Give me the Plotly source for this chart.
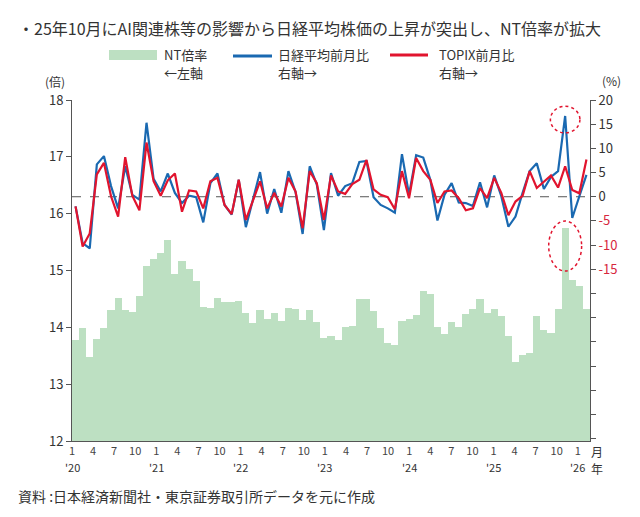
import plotly.graph_objects as go

# 月次データ 2020年1月〜2026年1月
months = [(y, m) for y in range(2020, 2027) for m in range(1, 13)][:73]

nt_ratio = [13.78, 13.99, 13.48, 13.79, 13.99, 14.31, 14.52, 14.31, 14.27, 14.55, 15.08, 15.21,
            15.30, 15.54, 14.94, 15.17, 15.02, 14.82, 14.35, 14.34, 14.52, 14.45, 14.44, 14.46,
            14.25, 14.07, 14.30, 14.15, 14.26, 14.12, 14.34, 14.33, 14.13, 14.31, 14.10, 13.81,
            13.84, 13.78, 14.00, 14.03, 14.50, 14.50, 14.29, 13.99, 13.72, 13.69, 14.11, 14.14,
            14.22, 14.64, 14.59, 14.01, 13.88, 14.09, 14.00, 14.24, 14.33, 14.50, 14.26, 14.33,
            14.20, 13.85, 13.39, 13.52, 13.55, 14.20, 13.96, 13.90, 14.32, 15.74, 14.84, 14.72,
            14.32]

nikkei_mom = [-2.0, -9.6, -10.7, 6.7, 8.4, 2.2, -2.4, 6.3, 0.4, -0.6, 15.3, 3.7,
              1.1, 4.8, 0.8, -1.3, 0.2, -0.1, -5.3, 2.8, 4.8, -1.7, -3.7, 3.5,
              -6.3, -0.6, 5.1, -3.5, 1.6, -3.3, 5.3, 1.0, -7.7, 6.3, 2.5, -6.9,
              4.9, 0.2, 2.2, 2.8, 7.2, 7.4, -0.1, -1.7, -2.4, -3.3, 8.8, 0.4,
              8.6, 8.1, 3.5, -4.9, 0.4, 2.8, -1.2, -1.3, -1.9, 3.0, -2.2, 4.4,
              0.1, -6.2, -4.1, 0.8, 5.3, 6.9, 1.6, 4.1, 5.3, 16.7, -4.4, 0.1,
              4.5]

topix_mom = [-2.0, -10.3, -7.6, 4.6, 7.0, 0.1, -4.1, 8.2, 0.2, -2.8, 11.2, 3.2,
             0.2, 3.4, 4.8, -3.1, 1.3, 1.1, -2.4, 3.2, 3.9, -1.7, -3.6, 3.5,
             -4.8, -1.0, 3.2, -2.4, 0.8, -2.0, 3.9, 1.1, -6.5, 5.3, 2.8, -4.8,
             4.4, 1.1, 0.6, 2.6, 3.5, 7.6, 1.5, 0.4, -0.1, -2.6, 5.3, -0.3,
             8.0, 5.3, 3.5, -1.3, 1.1, 1.3, -0.3, -2.8, -2.4, 1.8, -0.3, 3.9,
             0.8, -3.8, -1.0, 0.2, 5.3, 1.8, 3.2, 4.4, 1.9, 6.3, 1.4, 0.7,
             7.7]

left_ticks = [12, 13, 14, 15, 16, 17, 18]
right_ticks = [20, 15, 10, 5, 0, -5, -10, -15, -20, -25, -30, -35, -40, -45, -50]

GREEN = '#BDE0C2'
BLUE = '#1A69B1'
RED = '#E1142E'
AXIS = '#555555'
FONT = 'Noto Sans CJK JP'

x = list(range(len(nt_ratio)))

L, R, T, B = 72, 590, 100, 441  # plot area in px


def px(xp):
    return (xp - L) / (R - L)


def py(yp):
    return (B - yp) / (B - T)


def note(text, xp, yp, size=13, xanchor='left', yanchor='middle', align='left', xref='paper'):
    return dict(text=text, xref=xref, yref='paper', x=px(xp) if xref == 'paper' else xp,
                y=py(yp), showarrow=False, xanchor=xanchor, yanchor=yanchor, align=align,
                font=dict(family=FONT, size=size, color='#333'))


# x軸ラベル (1,4,7,10月)、年は1月の下に
tickvals, ticktext, year_notes = [], [], []
for i, (yy, mm) in enumerate(months):
    if mm in (1, 4, 7, 10):
        pos = i - 0.5 - i * 0.01
        tickvals.append(pos)
        ticktext.append(str(mm))
        if mm == 1:
            year_notes.append(note(f"'{yy % 100:02d}", pos, 467, size=11,
                                   xanchor='center', xref='x'))

right_text = []
for v in right_ticks:
    if v < -15:
        right_text.append('')
    elif v < 0:
        right_text.append(f'<span style="color:#D7263D">{v}</span>')
    else:
        right_text.append(str(v))

data = [
    go.Bar(x=x, y=nt_ratio, marker=dict(color=GREEN, line=dict(width=0)), yaxis='y'),
    go.Scatter(x=x, y=nikkei_mom, mode='lines', line=dict(color=BLUE, width=2.2), yaxis='y2'),
    go.Scatter(x=x, y=topix_mom, mode='lines', line=dict(color=RED, width=2.2), yaxis='y2'),
]

peak = nikkei_mom.index(max(nikkei_mom))

shapes = [
    dict(type='line', xref='paper', yref='y2', x0=0, x1=1, y0=0, y1=0,
         line=dict(color=AXIS, width=1, dash='dash'), layer='below'),
    dict(type='circle', xref='x', yref='y2', x0=peak - 2.08, x1=peak + 2.08,
         y0=nikkei_mom[peak] - 3.5, y1=nikkei_mom[peak] + 2.0,
         line=dict(color=RED, width=1.5, dash='dot')),
    dict(type='circle', xref='x', yref='y', x0=peak - 2.32, x1=peak + 2.32,
         y0=nt_ratio[peak] - 0.75, y1=nt_ratio[peak] + 0.13,
         line=dict(color=RED, width=1.5, dash='dot')),
    # 凡例
    dict(type='rect', xref='paper', yref='paper', x0=px(109), x1=px(157), y0=py(60), y1=py(50),
         fillcolor=GREEN, line=dict(width=0)),
    dict(type='line', xref='paper', yref='paper', x0=px(233), x1=px(272), y0=py(56), y1=py(56),
         line=dict(color=BLUE, width=3)),
    dict(type='line', xref='paper', yref='paper', x0=px(390), x1=px(428), y0=py(55), y1=py(55),
         line=dict(color=RED, width=3)),
]

annotations = [
    note('・25年10月にAI関連株等の影響から日経平均株価の上昇が突出し、NT倍率が拡大', 16, 28, size=16),
    note('NT倍率', 162, 55),
    note('←左軸', 162, 72),
    note('日経平均前月比', 276, 55),
    note('右軸→', 276, 72),
    note('TOPIX前月比', 437, 55),
    note('右軸→', 437, 72),
    note('(倍)', 55, 81, size=12, xanchor='center'),
    note('(%)', 611, 80, size=12, xanchor='center'),
    note('月', 597, 451, size=12, xanchor='center'),
    note('年', 597, 468, size=12, xanchor='center'),
    note('資料 :日本経済新聞社・東京証券取引所データを元に作成', 16, 496, size=14),
] + year_notes

layout = go.Layout(
    width=640, height=517, autosize=False,
    margin=dict(l=L, r=640 - R, t=T, b=517 - B, pad=0),
    paper_bgcolor='white', plot_bgcolor='white',
    showlegend=False, bargap=0,
    font=dict(family=FONT, color='#333'),
    xaxis=dict(range=[-0.5, len(x) - 0.5], tickvals=tickvals, ticktext=ticktext,
               showline=True, linecolor=AXIS, linewidth=1, ticks='', showgrid=False,
               zeroline=False, tickfont=dict(size=11, color='#444'), tickangle=0,
               ticklabelstandoff=0),
    yaxis=dict(range=[12, 18], tickvals=left_ticks, showline=True, linecolor=AXIS, linewidth=1,
               ticks='outside', ticklen=5, tickcolor=AXIS, showgrid=False, zeroline=False,
               tickfont=dict(size=13, color='#333')),
    yaxis2=dict(range=[-50.5, 20], overlaying='y', side='right', tickvals=right_ticks,
                ticktext=right_text, showline=True, linecolor=AXIS, linewidth=1,
                ticks='outside', ticklen=5, tickcolor=AXIS, showgrid=False, zeroline=False,
                tickfont=dict(size=13, color='#333')),
    shapes=shapes,
    annotations=annotations,
)

fig = go.Figure(data=data, layout=layout)
# 既定の body 余白を消して 640x517 にぴったり合わせる
fig.write_html('out.html', config={'displayModeBar': False},
               post_script="document.body.style.margin='0';")
